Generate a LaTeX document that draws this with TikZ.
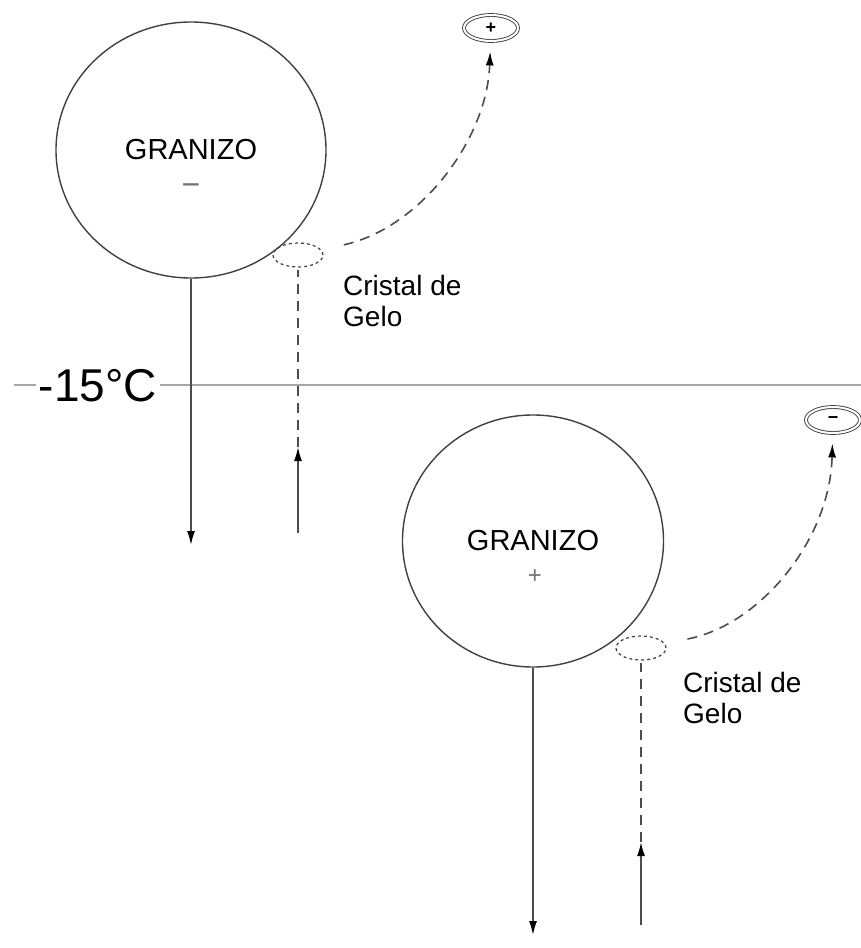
\documentclass[tikz,border=0pt]{standalone}
\usepackage{fontspec}
\setmainfont{Liberation Sans}
\usetikzlibrary{arrows.meta,shapes.geometric}
\begin{document}
\begin{tikzpicture}[x=1pt,y=-1pt,
  hail/.style={ellipse,draw=black!75,line width=1.4pt,inner sep=0pt,font=\fontsize{29}{31}\selectfont},
  crys/.style={ellipse,draw=black!75,dashed,line width=1.2pt,minimum width=50pt,minimum height=24pt,inner sep=0pt},
  ice/.style={ellipse,draw=black!75,double,double distance=2pt,line width=0.9pt,minimum width=54pt,minimum height=26pt,inner sep=0pt,font=\bfseries\fontsize{18}{18}\selectfont},
  sign/.style={text=black!55,inner sep=0pt},
  note/.style={align=left,inner sep=0pt,anchor=north west,font=\fontsize{28}{31}\selectfont},
  tip/.style={-{Latex[length=14pt,width=8pt,black]}},
  flow/.style={line width=1.6pt,draw=black!70,tip},
  dashflow/.style={line width=1.6pt,draw=black!70,dash pattern=on 10pt off 7pt}]
  \useasboundingbox (0,0) rectangle (861,948);
  \draw[black!35,line width=2pt] (14,385) -- (861,385);
  \node[fill=white,inner sep=3pt,font=\fontsize{46}{48}\selectfont] (T) at (98,386) {-15°C};
  \node[hail,minimum width=270pt,minimum height=256pt] (G1) at (191,150) {GRANIZO};
  \node[sign,font=\fontsize{32}{32}\selectfont] (S1) at (191,190) {−};
  \node[hail,minimum width=261pt,minimum height=252pt] (G2) at (533,541) {GRANIZO};
  \node[sign,font=\fontsize{24}{24}\selectfont] (S2) at (535,577) {+};
  \node[crys] (C1) at (298,255) {};
  \node[crys] (C2) at (641,648) {};
  \node[ice] (I1) at (491,28) {+};
  \node[ice] (I2) at (833,420) {−};
  \node[note] (N1) at (343,275) {Cristal de\\Gelo};
  \node[note] (N2) at (683,672) {Cristal de\\Gelo};
  \coordinate (D1) at (191,545);
  \coordinate (U1) at (298,533);
  \coordinate (M1) at (298,447);
  \coordinate (D2) at (533,935);
  \coordinate (U2) at (641,925);
  \coordinate (M2) at (641,842);
  \draw[flow] (G1.south) -- (D1);
  \draw[flow] (U1) -- (M1);
  \draw[dashflow,shorten >=2pt] (M1) -- (C1.south);
  \draw[dashflow,tip,shorten <=23pt,shorten >=10pt] (C1) .. controls (420,228) and (487,140) .. (I1);
  \draw[flow] (G2.south) -- (D2);
  \draw[flow] (U2) -- (M2);
  \draw[dashflow,shorten >=2pt] (M2) -- (C2.south);
  \draw[dashflow,tip,shorten <=23pt,shorten >=10pt] (C2) .. controls (760,625) and (830,540) .. (I2);
\end{tikzpicture}
\end{document}
